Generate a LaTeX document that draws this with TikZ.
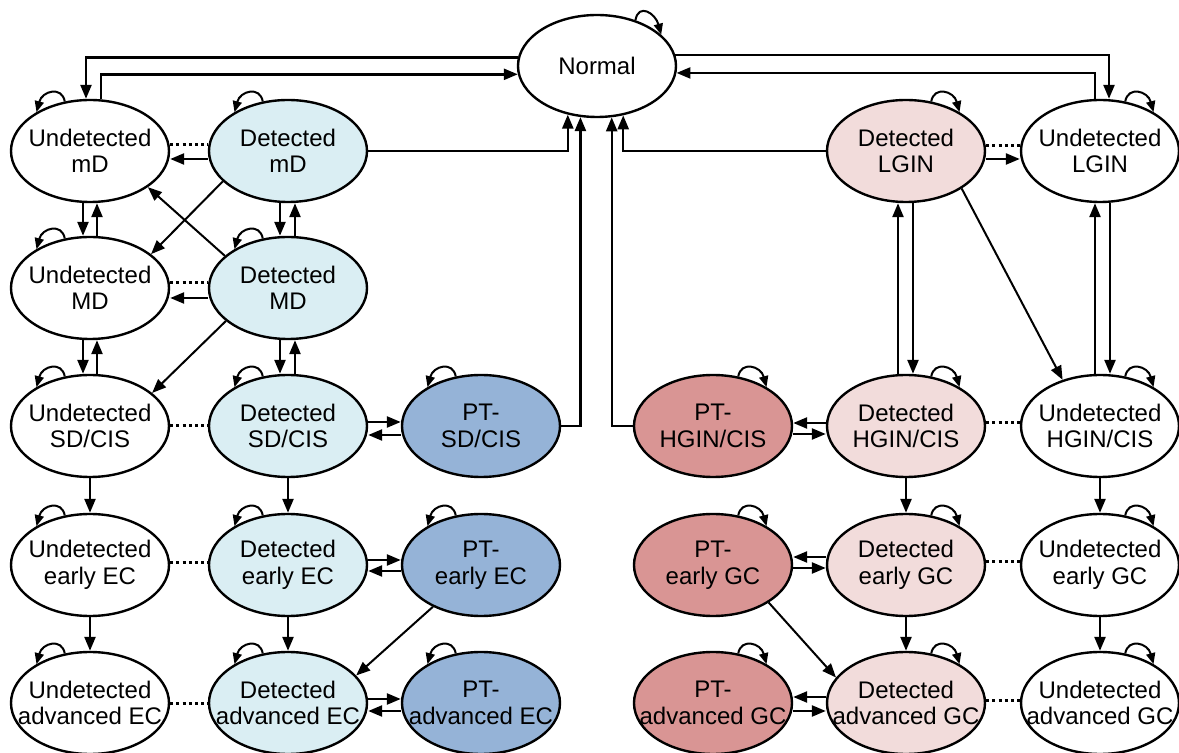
\documentclass[tikz,border=0pt]{standalone}
\usepackage{fontspec}
\setmainfont{Liberation Sans}
\usetikzlibrary{shapes.geometric,arrows.meta}
\definecolor{ltblue}{HTML}{DAEEF3}
\definecolor{ptblue}{HTML}{95B3D7}
\definecolor{ltpink}{HTML}{F2DCDB}
\definecolor{ptred}{HTML}{D99594}
\newcommand\lloop[1]{\draw[lpl] (#1.117) .. controls +(100:8pt) and +(75:11pt) .. (#1.144);}
\newcommand\rloop[1]{\draw[lpl] (#1.63) .. controls +(80:8pt) and +(105:11pt) .. (#1.36);}
\begin{document}
\begin{tikzpicture}[x=0.5pt,y=-0.5pt,
 st/.style={ellipse,draw,line width=1.2pt,minimum width=79pt,minimum height=51pt,inner sep=0pt},
 lbl/.style={align=center,font=\fontsize{12}{13.3}\selectfont,inner sep=0pt},
 arr/.style={line width=1.2pt,-{Triangle[length=7pt,width=5.5pt]}},
 darr/.style={line width=1pt,-{Triangle[length=7pt,width=5.5pt]}},
 dots/.style={line width=1.5pt,dash pattern=on 1.5pt off 1.6pt},
 lpl/.style={line width=1pt,-{Triangle[length=5.5pt,width=4.5pt]}}]
\useasboundingbox (0,0) rectangle (1179,753);
% nodes
\node[st,fill=white,label={[lbl]center:Normal}] (N) at (597,66) {};
\node[st,fill=white,label={[lbl]center:Undetected\\mD}] (UmD) at (90,151) {};
\node[st,fill=ltblue,label={[lbl]center:Detected\\mD}] (DmD) at (288,151) {};
\node[st,fill=ltpink,label={[lbl]center:Detected\\LGIN}] (DLG) at (906,151) {};
\node[st,fill=white,label={[lbl]center:Undetected\\LGIN}] (ULG) at (1100,151) {};
\node[st,fill=white,label={[lbl]center:Undetected\\MD}] (UMD) at (90,288) {};
\node[st,fill=ltblue,label={[lbl]center:Detected\\MD}] (DMD) at (288,288) {};
\node[st,fill=white,label={[lbl]center:Undetected\\SD/CIS}] (USD) at (90,426) {};
\node[st,fill=ltblue,label={[lbl]center:Detected\\SD/CIS}] (DSD) at (288,426) {};
\node[st,fill=ptblue,label={[lbl]center:PT-\\SD/CIS}] (PSD) at (481,426) {};
\node[st,fill=ptred,label={[lbl]center:PT-\\HGIN/CIS}] (PHG) at (713,426) {};
\node[st,fill=ltpink,label={[lbl]center:Detected\\HGIN/CIS}] (DHG) at (906,426) {};
\node[st,fill=white,label={[lbl]center:Undetected\\HGIN/CIS}] (UHG) at (1100,426) {};
\node[st,fill=white,label={[lbl]center:Undetected\\early EC}] (UeEC) at (90,565) {};
\node[st,fill=ltblue,label={[lbl]center:Detected\\early EC}] (DeEC) at (288,565) {};
\node[st,fill=ptblue,label={[lbl]center:PT-\\early EC}] (PeEC) at (481,565) {};
\node[st,fill=ptred,label={[lbl]center:PT-\\early GC}] (PeGC) at (713,565) {};
\node[st,fill=ltpink,label={[lbl]center:Detected\\early GC}] (DeGC) at (906,565) {};
\node[st,fill=white,label={[lbl]center:Undetected\\early GC}] (UeGC) at (1100,565) {};
\node[st,fill=white,label={[lbl]center:Undetected\\advanced EC}] (UaEC) at (90,703) {};
\node[st,fill=ltblue,label={[lbl]center:Detected\\advanced EC}] (DaEC) at (288,703) {};
\node[st,fill=ptblue,label={[lbl]center:PT-\\advanced EC}] (PaEC) at (481,703) {};
\node[st,fill=ptred,label={[lbl]center:PT-\\advanced GC}] (PaGC) at (713,703) {};
\node[st,fill=ltpink,label={[lbl]center:Detected\\advanced GC}] (DaGC) at (906,703) {};
\node[st,fill=white,label={[lbl]center:Undetected\\advanced GC}] (UaGC) at (1100,703) {};
% self loops
\draw[lpl] (N.50) .. controls +(80:9pt) and +(105:11pt) .. (N.26);
\foreach \n in {UmD,DmD,UMD,DMD,USD,DSD,PSD,UeEC,DeEC,PeEC,UaEC,DaEC,PaEC} {\lloop{\n}}
\foreach \n in {DLG,ULG,PHG,DHG,UHG,PeGC,DeGC,UeGC,PaGC,DaGC,UaGC} {\rloop{\n}}
% Normal connections
\draw[arr] (N.174) -| ([xshift=-2pt]UmD.north);
\draw[arr] ([xshift=5.5pt]UmD.north) |- (N.186);
\draw[arr] (DmD.east) -| (N.239);
\draw[arr] (PSD.east) -| (N.252);
\draw[arr] (PHG.west) -| (N.286);
\draw[arr] (DLG.west) -| (N.298);
\draw[arr] (N.8) -| ([xshift=4.5pt]ULG.north);
\draw[arr] ([xshift=-2.5pt]ULG.north) |- (N.355);
% horizontal: dotted and arrows
\draw[dots] ([yshift=3pt]UmD.east) -- ([yshift=3pt]DmD.west);
\draw[arr] ([yshift=-4pt]DmD.west) -- ([yshift=-4pt]UmD.east);
\draw[dots] ([yshift=2.5pt]UMD.east) -- ([yshift=2.5pt]DMD.west);
\draw[arr] ([yshift=-5pt]DMD.west) -- ([yshift=-5pt]UMD.east);
\draw[dots] ([yshift=2.5pt]DLG.east) -- ([yshift=2.5pt]ULG.west);
\draw[arr] ([yshift=-4pt]DLG.east) -- ([yshift=-4pt]ULG.west);
\draw[dots] (USD.east) -- (DSD.west);
\draw[arr] ([yshift=2pt]DSD.east) -- ([yshift=2pt]PSD.west);
\draw[arr] ([yshift=-4.5pt]PSD.west) -- ([yshift=-4.5pt]DSD.east);
\draw[arr] ([yshift=1.5pt]DHG.west) -- ([yshift=1.5pt]PHG.east);
\draw[arr] ([yshift=-4pt]PHG.east) -- ([yshift=-4pt]DHG.west);
\draw[dots] ([yshift=1.5pt]DHG.east) -- ([yshift=1.5pt]UHG.west);
\draw[dots] ([yshift=1pt]UeEC.east) -- ([yshift=1pt]DeEC.west);
\draw[arr] ([yshift=2.5pt]DeEC.east) -- ([yshift=2.5pt]PeEC.west);
\draw[arr] ([yshift=-3pt]PeEC.west) -- ([yshift=-3pt]DeEC.east);
\draw[arr] ([yshift=4pt]DeGC.west) -- ([yshift=4pt]PeGC.east);
\draw[arr] ([yshift=-1.5pt]PeGC.east) -- ([yshift=-1.5pt]DeGC.west);
\draw[dots] ([yshift=1.5pt]DeGC.east) -- ([yshift=1.5pt]UeGC.west);
\draw[dots] (UaEC.east) -- (DaEC.west);
\draw[arr] ([yshift=2pt]DaEC.east) -- ([yshift=2pt]PaEC.west);
\draw[arr] ([yshift=-4pt]PaEC.west) -- ([yshift=-4pt]DaEC.east);
\draw[arr] ([yshift=3pt]DaGC.west) -- ([yshift=3pt]PaGC.east);
\draw[arr] ([yshift=-4pt]PaGC.east) -- ([yshift=-4pt]DaGC.west);
\draw[dots] ([yshift=1.5pt]DaGC.east) -- ([yshift=1.5pt]UaGC.west);
% vertical pairs
\draw[arr] ([xshift=-3.5pt]UmD.south) -- ([xshift=-3.5pt]UMD.north);
\draw[arr] ([xshift=3.5pt]UMD.north) -- ([xshift=3.5pt]UmD.south);
\draw[arr] ([xshift=-4pt]DmD.south) -- ([xshift=-4pt]DMD.north);
\draw[arr] ([xshift=3.5pt]DMD.north) -- ([xshift=3.5pt]DmD.south);
\draw[arr] ([xshift=-3.5pt]UMD.south) -- ([xshift=-3.5pt]USD.north);
\draw[arr] ([xshift=3.5pt]USD.north) -- ([xshift=3.5pt]UMD.south);
\draw[arr] ([xshift=-4pt]DMD.south) -- ([xshift=-4pt]DSD.north);
\draw[arr] ([xshift=3.5pt]DSD.north) -- ([xshift=3.5pt]DMD.south);
\draw[arr] ([xshift=-4pt]DHG.north) -- ([xshift=-4pt]DLG.south);
\draw[arr] ([xshift=3.5pt]DLG.south) -- ([xshift=3.5pt]DHG.north);
\draw[arr] ([xshift=-2.5pt]UHG.north) -- ([xshift=-2.5pt]ULG.south);
\draw[arr] ([xshift=5pt]ULG.south) -- ([xshift=5pt]UHG.north);
% vertical singles
\draw[arr] (USD) -- (UeEC);
\draw[arr] (DSD) -- (DeEC);
\draw[arr] (UeEC) -- (UaEC);
\draw[arr] (DeEC) -- (DaEC);
\draw[arr] (DHG) -- (DeGC);
\draw[arr] (UHG) -- (UeGC);
\draw[arr] (DeGC) -- (DaGC);
\draw[arr] (UeGC) -- (UaGC);
% diagonals
\draw[darr] (DmD.205) -- (UMD.29);
\draw[darr] (DMD.153) -- (UmD.328);
\draw[darr] (DMD.208) -- (USD.28);
\draw[darr] (DLG.326) -- (UHG.129);
\draw[darr] (PeEC.221) -- (DaEC.22);
\draw[darr] (PeGC.326) -- (DaGC.160);
\end{tikzpicture}
\end{document}
